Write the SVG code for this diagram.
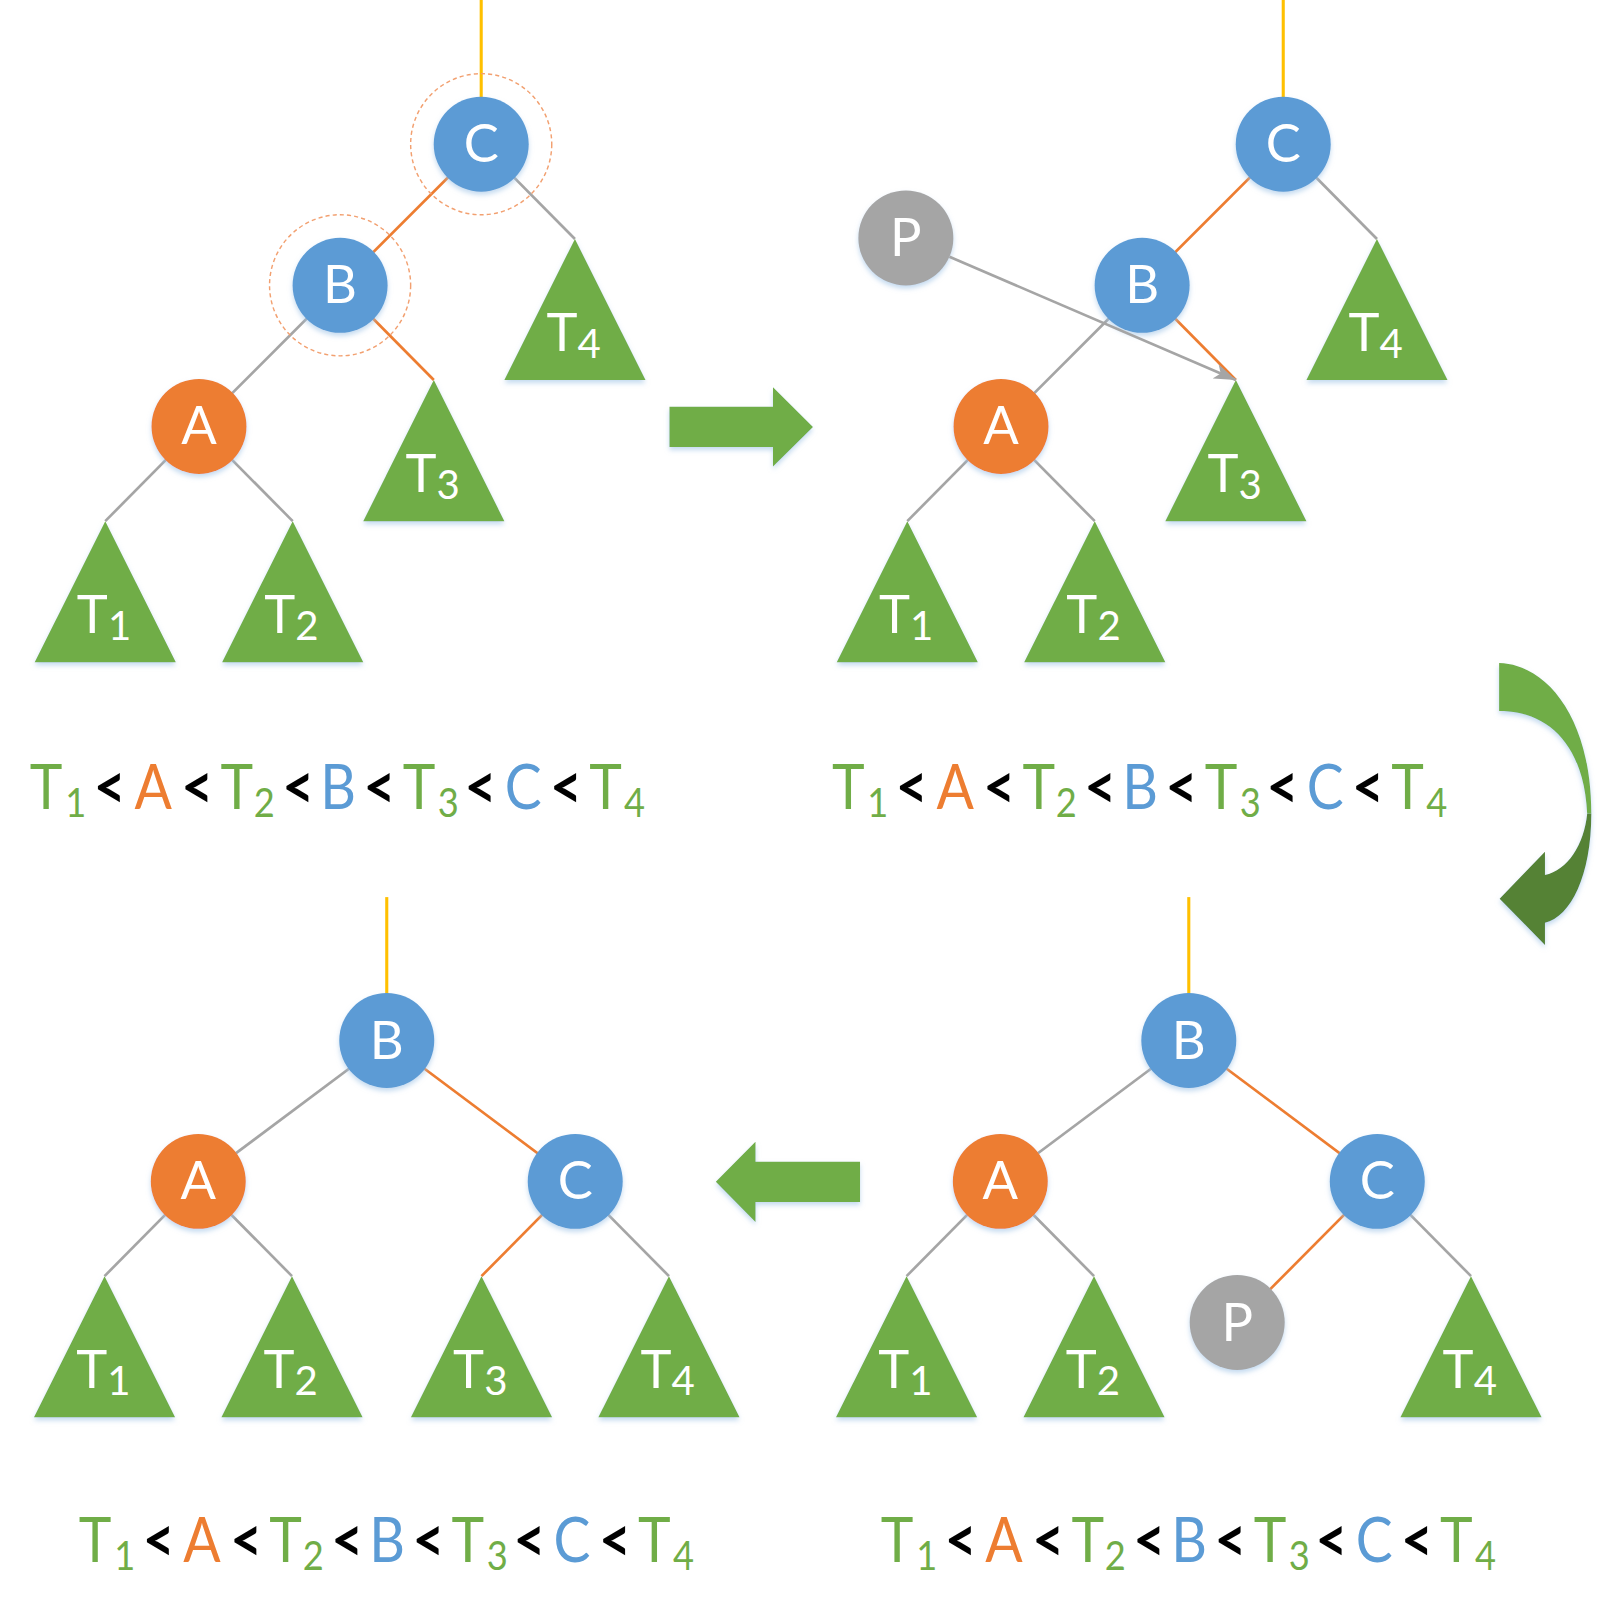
<svg xmlns="http://www.w3.org/2000/svg" width="1615" height="1611" viewBox="0 0 1615 1611">
<defs>
<style>
.bl{fill:#5B9BD5}.or{fill:#ED7D31}.gy{fill:#A5A5A5}.gr{fill:#70AD47}.dg{fill:#548235}
.sh{filter:url(#sh)}
.lbl{font-family:Lato,"Open Sans","Liberation Sans",sans-serif;fill:#fff;font-size:51px;text-anchor:middle}
.sub{font-size:39px}
.eg{stroke:#A5A5A5;stroke-width:2.6;fill:none}
.eo{stroke:#ED7D31;stroke-width:2.6;fill:none}
.ey{stroke:#FFC000;stroke-width:3;fill:none}
.dash{fill:none;stroke:#F2A070;stroke-width:1.4;stroke-dasharray:4 3}
.f{font-family:Lato,"Open Sans","Liberation Sans",sans-serif;font-size:61px}
.fg{fill:#70AD47}.fo{fill:#ED7D31}.fb{fill:#5B9BD5}.fk{fill:#000;font-weight:700}
.fs{font-size:40px}
</style>
<filter id="sh" x="-20%" y="-20%" width="140%" height="150%">
<feDropShadow dx="0" dy="3" stdDeviation="2.5" flood-color="#9DC3E6" flood-opacity="0.6"/>
</filter>
<marker id="ah" viewBox="0 0 20 14" markerUnits="userSpaceOnUse" markerWidth="22" markerHeight="15" refX="20" refY="7" orient="auto">
<path d="M0,0 L20,7 L0,14 L5,7 Z" fill="#A5A5A5"/>
</marker>
</defs>
<rect width="1615" height="1611" fill="#fff"/>
<g transform="scale(1.02997)">

<!-- connectors -->
<g id="connectors">
<line class="ey" x1="467.2" y1="0" x2="467.2" y2="140"/>
<line class="eo" x1="467.2" y1="140" x2="330.2" y2="277"/>
<line class="eg" x1="467.2" y1="140" x2="558.2" y2="232"/>
<line class="eg" x1="330.2" y1="277" x2="193.2" y2="414"/>
<line class="eo" x1="330.2" y1="277" x2="421.2" y2="369"/>
<line class="eg" x1="193.2" y1="414" x2="102.2" y2="506"/>
<line class="eg" x1="193.2" y1="414" x2="284.2" y2="506"/>
<line class="ey" x1="1245.9" y1="0" x2="1245.9" y2="140"/>
<line class="eo" x1="1245.9" y1="140" x2="1108.9" y2="277"/>
<line class="eg" x1="1245.9" y1="140" x2="1336.9" y2="232"/>
<line class="eg" x1="1108.9" y1="277" x2="971.9" y2="414"/>
<line class="eo" x1="1108.9" y1="277" x2="1199.9" y2="369"/>
<line class="eg" x1="971.9" y1="414" x2="880.9" y2="506"/>
<line class="eg" x1="971.9" y1="414" x2="1062.9" y2="506"/>
<line class="ey" x1="375.5" y1="871" x2="375.5" y2="1010.2"/>
<line class="eg" x1="375.5" y1="1010.2" x2="192.5" y2="1147"/>
<line class="eo" x1="375.5" y1="1010.2" x2="558.5" y2="1147"/>
<line class="eg" x1="192.5" y1="1147" x2="101.5" y2="1239"/>
<line class="eg" x1="192.5" y1="1147" x2="283.5" y2="1239"/>
<line class="eo" x1="558.5" y1="1147" x2="467.5" y2="1239"/>
<line class="eg" x1="558.5" y1="1147" x2="649.5" y2="1239"/>
<line class="ey" x1="1154.2" y1="871" x2="1154.2" y2="1010.2"/>
<line class="eg" x1="1154.2" y1="1010.2" x2="971.2" y2="1147"/>
<line class="eo" x1="1154.2" y1="1010.2" x2="1337.2" y2="1147"/>
<line class="eg" x1="971.2" y1="1147" x2="880.2" y2="1239"/>
<line class="eg" x1="971.2" y1="1147" x2="1062.2" y2="1239"/>
<line class="eo" x1="1337.2" y1="1147" x2="1201.2" y2="1284"/>
<line class="eg" x1="1337.2" y1="1147" x2="1428.2" y2="1239"/>
</g>

<!-- panel 1 nodes -->
<g id="p1-T4"><polygon class="gr sh" points="558.2,232 489.7,369 626.7,369"/><text class="lbl" x="557" y="340.6">T<tspan class="sub" dy="7">4</tspan></text></g>
<g id="p1-T3"><polygon class="gr sh" points="421.2,369 352.7,506 489.7,506"/><text class="lbl" x="420" y="477.6">T<tspan class="sub" dy="7">3</tspan></text></g>
<g id="p1-T1"><polygon class="gr sh" points="102.2,506 33.7,643 170.7,643"/><text class="lbl" x="101" y="614.6">T<tspan class="sub" dy="7">1</tspan></text></g>
<g id="p1-T2"><polygon class="gr sh" points="284.2,506 215.7,643 352.7,643"/><text class="lbl" x="283" y="614.6">T<tspan class="sub" dy="7">2</tspan></text></g>
<g id="p1-C"><circle class="dash" cx="467.2" cy="140" r="68.5"/><circle class="bl sh" cx="467.2" cy="140" r="46.1"/><text class="lbl" x="467.2" y="157.5">C</text></g>
<g id="p1-B"><circle class="dash" cx="330.2" cy="277" r="68.5"/><circle class="bl sh" cx="330.2" cy="277" r="46.1"/><text class="lbl" x="330.2" y="294.5">B</text></g>
<g id="p1-A"><circle class="or sh" cx="193.2" cy="414" r="46.1"/><text class="lbl" x="193.2" y="431.5">A</text></g>

<g id="arrow-right"><polygon class="gr sh" points="650,395 750.5,395 750.5,376 789.3,414.5 750.5,453 750.5,434 650,434"/></g>

<!-- panel 2 nodes -->
<g id="p2-T4"><polygon class="gr sh" points="1336.9,232 1268.4,369 1405.4,369"/><text class="lbl" x="1335.7" y="340.6">T<tspan class="sub" dy="7">4</tspan></text></g>
<g id="p2-T3"><polygon class="gr sh" points="1199.9,369 1131.4,506 1268.4,506"/><text class="lbl" x="1198.7" y="477.6">T<tspan class="sub" dy="7">3</tspan></text></g>
<g id="p2-T1"><polygon class="gr sh" points="880.9,506 812.4,643 949.4,643"/><text class="lbl" x="879.7" y="614.6">T<tspan class="sub" dy="7">1</tspan></text></g>
<g id="p2-T2"><polygon class="gr sh" points="1062.9,506 994.4,643 1131.4,643"/><text class="lbl" x="1061.7" y="614.6">T<tspan class="sub" dy="7">2</tspan></text></g>
<g id="p2-C"><circle class="bl sh" cx="1245.9" cy="140" r="46.1"/><text class="lbl" x="1245.9" y="157.5">C</text></g>
<g id="p2-B"><circle class="bl sh" cx="1108.9" cy="277" r="46.1"/><text class="lbl" x="1108.9" y="294.5">B</text></g>
<g id="p2-A"><circle class="or sh" cx="971.9" cy="414" r="46.1"/><text class="lbl" x="971.9" y="431.5">A</text></g>
<g id="p2-P"><circle class="gy sh" cx="879.5" cy="231" r="46.1"/><text class="lbl" x="879.5" y="248.5">P</text></g>
<g id="p2-P-arrow"><line class="eg" x1="921.8" y1="249.2" x2="1199.9" y2="369" marker-end="url(#ah)"/></g>

<g id="curved-arrow">
<path class="gr sh" d="M1455.5,643.7 C1502,645 1545,697 1545,790 L1541,790 C1538,725 1505,690.3 1455.5,690.3 Z"/>
<path class="dg sh" d="M1545,790 C1545,850 1525,890 1500,896 L1500,917.5 L1456,872.5 L1500,827 L1500,849.5 C1522,845 1538,820 1541,790 Z"/>
</g>

<!-- panel 3 nodes -->
<g id="p3-T1"><polygon class="gr sh" points="101.5,1239 33,1376 170,1376"/><text class="lbl" x="100.3" y="1347.6">T<tspan class="sub" dy="7">1</tspan></text></g>
<g id="p3-T2"><polygon class="gr sh" points="283.5,1239 215,1376 352,1376"/><text class="lbl" x="282.3" y="1347.6">T<tspan class="sub" dy="7">2</tspan></text></g>
<g id="p3-T3"><polygon class="gr sh" points="467.5,1239 399,1376 536,1376"/><text class="lbl" x="466.3" y="1347.6">T<tspan class="sub" dy="7">3</tspan></text></g>
<g id="p3-T4"><polygon class="gr sh" points="649.5,1239 581,1376 718,1376"/><text class="lbl" x="648.3" y="1347.6">T<tspan class="sub" dy="7">4</tspan></text></g>
<g id="p3-B"><circle class="bl sh" cx="375.5" cy="1010.2" r="46.1"/><text class="lbl" x="375.5" y="1027.7">B</text></g>
<g id="p3-A"><circle class="or sh" cx="192.5" cy="1147" r="46.1"/><text class="lbl" x="192.5" y="1164.5">A</text></g>
<g id="p3-C"><circle class="bl sh" cx="558.5" cy="1147" r="46.1"/><text class="lbl" x="558.5" y="1164.5">C</text></g>

<g id="arrow-left"><polygon class="gr sh" points="835,1128 733.5,1128 733.5,1108.5 695,1147.3 733.5,1186.5 733.5,1167 835,1167"/></g>

<!-- panel 4 nodes -->
<g id="p4-T1"><polygon class="gr sh" points="880.2,1239 811.7,1376 948.7,1376"/><text class="lbl" x="879" y="1347.6">T<tspan class="sub" dy="7">1</tspan></text></g>
<g id="p4-T2"><polygon class="gr sh" points="1062.2,1239 993.7,1376 1130.7,1376"/><text class="lbl" x="1061" y="1347.6">T<tspan class="sub" dy="7">2</tspan></text></g>
<g id="p4-T4"><polygon class="gr sh" points="1428.2,1239 1359.7,1376 1496.7,1376"/><text class="lbl" x="1427" y="1347.6">T<tspan class="sub" dy="7">4</tspan></text></g>
<g id="p4-B"><circle class="bl sh" cx="1154.2" cy="1010.2" r="46.1"/><text class="lbl" x="1154.2" y="1027.7">B</text></g>
<g id="p4-A"><circle class="or sh" cx="971.2" cy="1147" r="46.1"/><text class="lbl" x="971.2" y="1164.5">A</text></g>
<g id="p4-C"><circle class="bl sh" cx="1337.2" cy="1147" r="46.1"/><text class="lbl" x="1337.2" y="1164.5">C</text></g>
<g id="p4-P"><circle class="gy sh" cx="1201.2" cy="1284" r="46.1"/><text class="lbl" x="1201.2" y="1301.5">P</text></g>

<!-- formulas -->
<text id="formula-1" class="f" transform="translate(0,0) scale(0.88,1)"><tspan class="fg" x="32.95" y="785.5">T</tspan><tspan class="fg fs" x="72" y="793.3">1</tspan><tspan class="fk" x="103.4" y="785.5">&lt;</tspan><tspan class="fo" x="148.3" y="785.5">A</tspan><tspan class="fk" x="200" y="785.5">&lt;</tspan><tspan class="fg" x="243.2" y="785.5">T</tspan><tspan class="fg fs" x="280" y="793.3">2</tspan><tspan class="fk" x="311.4" y="785.5">&lt;</tspan><tspan class="fb" x="353.4" y="785.5">B</tspan><tspan class="fk" x="401.1" y="785.5">&lt;</tspan><tspan class="fg" x="444.3" y="785.5">T</tspan><tspan class="fg fs" x="483" y="793.3">3</tspan><tspan class="fk" x="512.5" y="785.5">&lt;</tspan><tspan class="fb" x="556.8" y="785.5">C</tspan><tspan class="fk" x="606.8" y="785.5">&lt;</tspan><tspan class="fg" x="650" y="785.5">T</tspan><tspan class="fg fs" x="688.6" y="793.3">4</tspan></text>

<text id="formula-2" class="f" transform="translate(778.7,0) scale(0.88,1)"><tspan class="fg" x="32.95" y="785.5">T</tspan><tspan class="fg fs" x="72" y="793.3">1</tspan><tspan class="fk" x="103.4" y="785.5">&lt;</tspan><tspan class="fo" x="148.3" y="785.5">A</tspan><tspan class="fk" x="200" y="785.5">&lt;</tspan><tspan class="fg" x="243.2" y="785.5">T</tspan><tspan class="fg fs" x="280" y="793.3">2</tspan><tspan class="fk" x="311.4" y="785.5">&lt;</tspan><tspan class="fb" x="353.4" y="785.5">B</tspan><tspan class="fk" x="401.1" y="785.5">&lt;</tspan><tspan class="fg" x="444.3" y="785.5">T</tspan><tspan class="fg fs" x="483" y="793.3">3</tspan><tspan class="fk" x="512.5" y="785.5">&lt;</tspan><tspan class="fb" x="556.8" y="785.5">C</tspan><tspan class="fk" x="606.8" y="785.5">&lt;</tspan><tspan class="fg" x="650" y="785.5">T</tspan><tspan class="fg fs" x="688.6" y="793.3">4</tspan></text>

<text id="formula-3" class="f" transform="translate(47.5,731.5) scale(0.88,1)"><tspan class="fg" x="32.95" y="785.5">T</tspan><tspan class="fg fs" x="72" y="793.3">1</tspan><tspan class="fk" x="103.4" y="785.5">&lt;</tspan><tspan class="fo" x="148.3" y="785.5">A</tspan><tspan class="fk" x="200" y="785.5">&lt;</tspan><tspan class="fg" x="243.2" y="785.5">T</tspan><tspan class="fg fs" x="280" y="793.3">2</tspan><tspan class="fk" x="311.4" y="785.5">&lt;</tspan><tspan class="fb" x="353.4" y="785.5">B</tspan><tspan class="fk" x="401.1" y="785.5">&lt;</tspan><tspan class="fg" x="444.3" y="785.5">T</tspan><tspan class="fg fs" x="483" y="793.3">3</tspan><tspan class="fk" x="512.5" y="785.5">&lt;</tspan><tspan class="fb" x="556.8" y="785.5">C</tspan><tspan class="fk" x="606.8" y="785.5">&lt;</tspan><tspan class="fg" x="650" y="785.5">T</tspan><tspan class="fg fs" x="688.6" y="793.3">4</tspan></text>

<text id="formula-4" class="f" transform="translate(826.2,731.5) scale(0.88,1)"><tspan class="fg" x="32.95" y="785.5">T</tspan><tspan class="fg fs" x="72" y="793.3">1</tspan><tspan class="fk" x="103.4" y="785.5">&lt;</tspan><tspan class="fo" x="148.3" y="785.5">A</tspan><tspan class="fk" x="200" y="785.5">&lt;</tspan><tspan class="fg" x="243.2" y="785.5">T</tspan><tspan class="fg fs" x="280" y="793.3">2</tspan><tspan class="fk" x="311.4" y="785.5">&lt;</tspan><tspan class="fb" x="353.4" y="785.5">B</tspan><tspan class="fk" x="401.1" y="785.5">&lt;</tspan><tspan class="fg" x="444.3" y="785.5">T</tspan><tspan class="fg fs" x="483" y="793.3">3</tspan><tspan class="fk" x="512.5" y="785.5">&lt;</tspan><tspan class="fb" x="556.8" y="785.5">C</tspan><tspan class="fk" x="606.8" y="785.5">&lt;</tspan><tspan class="fg" x="650" y="785.5">T</tspan><tspan class="fg fs" x="688.6" y="793.3">4</tspan></text>

</g>
</svg>
